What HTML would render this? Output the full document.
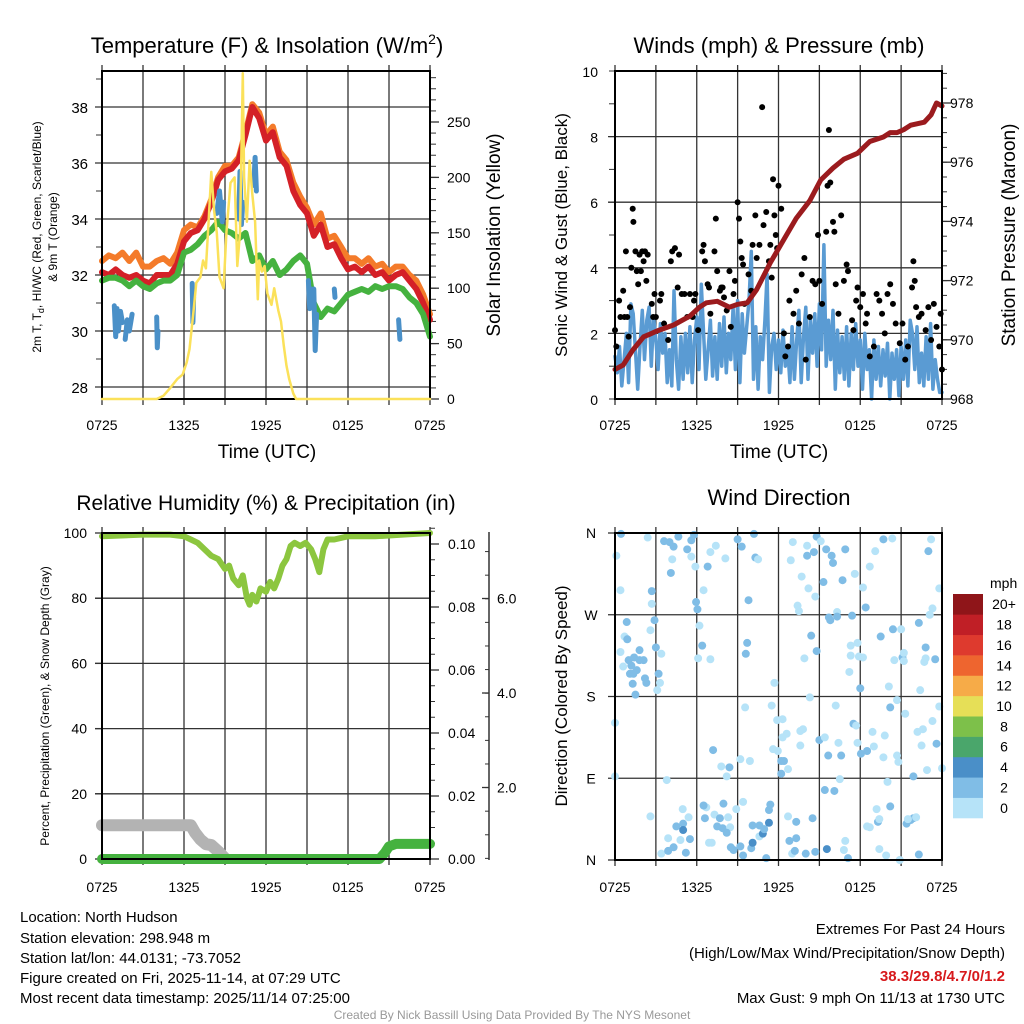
<!DOCTYPE html>
<html><head><meta charset="utf-8"><style>
html,body{margin:0;padding:0;background:#fff;}
svg{display:block;font-family:"Liberation Sans",Arial,sans-serif;}
</style></head><body>
<svg id="chart" width="1024" height="1024" viewBox="0 0 1024 1024">
<defs>
<clipPath id="clip3"><rect x="90" y="520" width="350" height="342"/></clipPath>
</defs>
<text x="267" y="53" font-size="22" text-anchor="middle">Temperature (F) &amp; Insolation (W/m<tspan font-size="14" dy="-9">2</tspan><tspan dy="9">)</tspan></text>
<text x="779" y="53" font-size="22" text-anchor="middle">Winds (mph) &amp; Pressure (mb)</text>
<text x="266" y="510" font-size="21" text-anchor="middle">Relative Humidity (%) &amp; Precipitation (in)</text>
<text x="779" y="505" font-size="22" text-anchor="middle">Wind Direction</text>
<text x="267" y="458" font-size="19" text-anchor="middle">Time (UTC)</text>
<text x="779" y="458" font-size="19" text-anchor="middle">Time (UTC)</text>
<text transform="translate(41,237) rotate(-90)" font-size="12" text-anchor="middle">2m T, T<tspan font-size="9" dy="3">d</tspan><tspan dy="-3">, HI/WC (Red, Green, Scarlet/Blue)</tspan></text>
<text transform="translate(57,237) rotate(-90)" font-size="12" text-anchor="middle">&amp; 9m T (Orange)</text>
<text transform="translate(500,235) rotate(-90)" font-size="19" text-anchor="middle">Solar Insolation (Yellow)</text>
<text transform="translate(567,235) rotate(-90)" font-size="17" text-anchor="middle">Sonic Wind &amp; Gust (Blue, Black)</text>
<text transform="translate(1015,235) rotate(-90)" font-size="19" text-anchor="middle">Station Pressure (Maroon)</text>
<text transform="translate(49,706) rotate(-90)" font-size="12" text-anchor="middle">Percent, Precipitation (Green), &amp; Snow Depth (Gray)</text>
<text transform="translate(567,696) rotate(-90)" font-size="17" text-anchor="middle">Direction (Colored By Speed)</text>
<text x="990" y="588" font-size="14">mph</text>
<g font-size="15">
<text x="20" y="922">Location: North Hudson</text>
<text x="20" y="943">Station elevation: 298.948 m</text>
<text x="20" y="963">Station lat/lon: 44.0131; -73.7052</text>
<text x="20" y="983">Figure created on Fri, 2025-11-14, at 07:29 UTC</text>
<text x="20" y="1003">Most recent data timestamp: 2025/11/14 07:25:00</text>
</g>
<g font-size="15" text-anchor="end">
<text x="1005" y="934">Extremes For Past 24 Hours</text>
<text x="1005" y="958">(High/Low/Max Wind/Precipitation/Snow Depth)</text>
<text x="1005" y="981" fill="#d7191c" font-weight="bold">38.3/29.8/4.7/0/1.2</text>
<text x="1005" y="1003">Max Gust: 9 mph On 11/13 at 1730 UTC</text>
</g>
<text x="512" y="1019" font-size="12" fill="#999" text-anchor="middle">Created By Nick Bassill Using Data Provided By The NYS Mesonet</text>
<g id="layer"></g>
</svg>
<script>
// ---------- DATA ----------
const timeTicks = ["0725","1325","1925","0125","0725"];
const halfHours = [0,0.5,1,1.5,2,2.5,3,3.5,4,4.5,5,5.5,6,6.5,7,7.5,8,8.5,9,9.5,10,10.5,11,11.5,12,12.5,13,13.5,14,14.5,15,15.5,16,16.5,17,17.5,18,18.5,19,19.5,20,20.5,21,21.5,22,22.5,23,23.5,24];
const temp2m = [32.1,32.0,32.2,32.0,31.9,32.0,31.8,31.7,32.0,32.0,32.0,32.4,33.2,33.5,33.6,34.0,34.6,35.4,35.7,35.8,36.1,37.0,38.0,37.6,36.8,37.1,36.2,35.9,35.0,34.5,34.2,33.4,33.8,33.0,33.1,32.6,32.2,32.3,32.1,32.3,32.0,32.1,31.8,32.0,32.1,31.8,31.5,31.0,30.4];
const temp9m = [32.5,32.7,32.6,32.8,32.5,32.8,32.3,32.3,32.5,32.6,32.4,32.8,33.6,33.8,33.7,34.1,34.7,35.5,35.9,35.9,36.2,37.1,38.1,37.8,37.0,37.3,36.4,36.1,35.3,34.8,34.4,33.8,34.2,33.3,33.4,33.0,32.6,32.6,32.4,32.6,32.3,32.4,32.1,32.3,32.3,32.0,31.8,31.3,30.6];
const dewpoint = [31.8,31.9,31.9,31.8,31.6,31.8,31.6,31.5,31.7,31.8,31.8,32.0,32.8,32.9,33.1,33.4,33.6,33.9,33.6,33.5,33.3,33.5,32.5,32.7,32.2,32.5,32.0,32.2,32.5,32.7,32.4,31.0,30.5,30.8,30.7,31.0,31.3,31.4,31.5,31.4,31.6,31.5,31.6,31.6,31.5,31.2,31.0,30.6,29.8];
const chillHours = [0.9,1.0,1.1,1.2,1.35,1.5,null,1.7,1.85,2.0,2.2,null,4.0,4.05,4.1,null,6.6,6.65,6.7,null,8.4,8.6,8.8,8.9,null,10.0,10.1,10.2,10.3,null,11.1,11.2,11.3,null,15.1,15.2,15.3,null,15.5,15.6,15.7,null,17.0,17.05,null,21.7,21.8];
const chillValues = [30.9,29.8,30.8,30.0,30.7,30.3,null,29.7,30.4,30.0,30.6,null,30.5,29.4,30.0,null,31.7,30.3,31.2,null,34.2,35.0,33.9,34.6,null,34.0,35.7,33.8,34.6,null,35.2,36.2,35.0,null,31.8,30.8,31.5,null,31.5,29.3,30.6,null,31.5,31.2,null,30.4,29.7];
const solarHours = [0,4.0,4.5,5.0,5.5,5.9,6.2,6.4,6.7,6.9,7.2,7.4,7.6,7.8,8.0,8.2,8.4,8.6,8.9,9.1,9.4,9.7,9.9,10.1,10.3,10.4,10.6,10.8,11.0,11.2,11.4,11.5,11.7,11.9,12.1,12.4,12.6,12.9,13.1,13.3,13.5,13.7,14.0,14.2,24];
const solarValues = [0,0,3,10,18,22,33,45,80,105,110,125,118,160,205,170,150,110,100,150,195,200,120,150,294,200,160,215,185,160,90,125,115,120,95,85,100,80,70,48,30,18,5,0,0];
const tempTicks = [28,30,32,34,36,38];
const solarTicks = [0,50,100,150,200,250];

const windSpeed = [1.3,0.8,1.6,0.4,1.2,2.0, 0.5,2.9,2.6,1.5,0.3,1.6, 2.7,1.2,2.4,2.8,1.0,2.5, 1.8,0.9,2.3,1.4,2.0,0.5, 1.5,0.4,3.3,1.2,0.3,1.9, 0.6,2.0,0.8,2.2,0.5,1.8, 2.5,0.9,3.5,2.0,0.6,1.5, 2.4,0.7,1.9,0.6,2.3,1.0, 2.5,0.8,2.0,1.2,2.8,0.9, 3.0,0.5,2.6,1.4,2.2,3.0, 4.5,0.6,2.2,0.3,1.9,1.2, 2.4,3.8,0.2,1.6,2.0,0.9, 1.8,0.8,2.1,1.0,1.6,0.5, 2.2,0.6,1.8,2.7,0.5,1.9, 2.8,0.6,2.4,1.4,2.6,1.0, 2.9,1.5,4.7,1.0,2.4,1.2, 2.7,0.3,2.1,0.8,1.9,0.6, 2.2,0.4,2.0,0.9,2.3,1.0, 1.8,0.3,2.0,0.9,1.5,0.0, 1.8,0.6,1.6,0.4,1.5,0.7, 1.7,0.0,1.4,0.6,1.5,0.1, 1.6,0.6,1.8,0.4,2.4,2.0, 0.9,2.2,0.5,1.4,0.4,1.9, 0.6,2.3,0.3,1.2,0.6,0.2, 0.2];
const windHours = windSpeed.map((v, i) => i / 6);
const gustHours = [0,0.1,0.3,0.4,0.6,0.7,0.8,0.9,1.0,1.1,1.2,1.3,1.35,1.5,1.6,1.7,1.8,1.9,2.0,2.1,2.2,2.3,2.4,2.7,2.8,2.9,3.0,3.3,3.4,3.6,3.9,4.1,4.2,4.4,4.6,4.7,4.9,5.1,5.3,5.5,5.7,5.8,5.9,6.1,6.4,6.5,6.6,6.8,6.9,7.0,7.3,7.4,7.5,7.7,7.8,7.9,8.0,8.2,8.4,8.5,8.7,8.8,9.0,9.1,9.2,9.3,9.4,9.5,9.8,10.0,10.1,10.3,10.4,10.6,10.8,10.9,11.1,11.3,11.4,11.5,11.6,11.7,11.8,11.9,12.0,12.2,12.4,12.5,12.7,12.8,13.1,13.3,13.5,13.7,13.9,14.0,14.3,14.5,14.7,14.9,15.0,15.2,15.5,15.6,15.7,15.8,16.0,16.1,16.2,16.4,16.6,16.8,17.0,17.1,17.4,17.5,17.7,17.8,18.0,18.2,18.4,18.5,18.7,19.0,19.2,19.4,19.6,19.8,20.0,20.2,20.4,20.6,20.9,21.1,21.3,21.5,21.8,21.9,22.0,22.1,22.3,22.5,22.8,23.0,23.2,23.4,23.6,23.8,23.9,24.0];
const gustValues = [2.1,1.6,3.0,2.5,3.3,2.5,4.5,2.5,1.9,2.8,4.0,5.8,5.4,4.5,3.9,3.5,4.4,3.9,4.5,4.2,4.5,3.6,4.4,2.9,2.5,3.2,2.5,3.0,3.2,2.3,1.8,4.2,4.5,4.6,3.4,4.4,3.2,3.2,2.5,3.2,2.5,3.0,3.2,2.1,4.5,4.7,4.2,3.5,3.4,2.6,4.5,5.5,3.9,3.3,3.4,3.4,3.1,2.7,3.9,2.2,3.2,3.6,6.0,5.5,4.8,4.3,4.1,2.9,3.8,3.3,4.7,5.6,4.3,4.7,8.9,5.3,5.7,4.2,4.7,3.7,6.7,5.6,5.0,4.6,6.5,5.8,2.0,1.3,1.6,3.0,2.6,3.3,2.3,3.8,4.3,1.2,2.5,3.6,3.5,5.0,3.6,2.9,5.1,6.5,8.2,6.6,5.4,5.1,3.5,2.6,5.6,3.6,4.1,3.9,2.4,2.1,3.0,3.4,2.8,3.2,2.3,2.6,1.3,1.6,3.2,3.0,2.6,2.0,3.2,3.5,2.9,2.3,1.7,2.3,1.2,1.6,3.4,4.2,3.6,2.8,2.5,2.6,2.1,2.8,1.8,2.9,2.2,1.6,2.6,0.9];
const pressHours = [0,0.6,1.3,2.1,2.6,3.1,4.3,5.5,6.2,6.7,7.5,8.4,9.0,9.7,10.4,11.4,12.4,13.3,14.3,15.1,16.0,16.8,17.8,18.7,19.7,20.2,20.7,21.2,21.7,22.2,22.7,23.2,23.6,24];
const pressValues = [969.0,969.15,969.65,970.1,970.2,970.3,970.5,970.8,971.1,971.25,971.3,971.1,971.2,971.25,971.7,972.6,973.4,974.1,974.7,975.4,975.8,976.1,976.3,976.7,976.85,977.0,977.0,977.1,977.25,977.3,977.35,977.6,978.0,977.9];
const windTicks = [0,2,4,6,8,10];
const pressTicks = [968,970,972,974,976,978];

const rhHours = [0,3,5,6,6.5,7,7.5,8,8.5,9,9.3,9.6,10,10.3,10.6,10.8,11,11.3,11.6,12,12.3,12.6,12.9,13.2,13.5,13.8,14.1,14.5,14.9,15.3,15.6,15.9,16.2,16.5,17,18,20,22,24];
const rhValues = [99,99.5,99.5,99,98,97,95,93,92,89,90,86,84,87,80,78,81,79,83,82,85,83,86,90,92,96,97,96,97,95,92,88,95,98,98,99,99,99.5,100];
const snowHours = [0,6.5,6.8,7.2,7.6,8.0,8.5,9.0,9.5];
const snowDepth = [1.2,1.2,1.05,0.9,0.8,0.78,0.65,0.5,0.4];
const precipHours = [0,20.3,20.7,21.0,21.5,24];
const precipValues = [0,0,0.002,0.004,0.0048,0.0048];
const rhTicks = [0,20,40,60,80,100];
const precipTicks = ["0.00","0.02","0.04","0.06","0.08","0.10"];
const snowTicks = ["2.0","4.0","6.0"];

const dirHours = [0.44,2.4,3.6,4.0,4.3,4.65,5.6,5.8,5.3,4.2,4.1,5.6,5.9,6.8,7.0,7.4,8.1,9.0,9.3,10.2,10.3,10.5,0.1,0.4,2.7,2.7,5.95,6.05,6.5,9.8,0.86,2.9,2.6,0.7,0.9,0.4,1.8,1.0,1.4,1.8,2.1,1.2,0.6,1.6,1.1,1.35,2.2,2.3,1.3,1.5,3.0,3.4,3.2,3.3,3.1,6.2,6.4,6.1,7.0,9.7,9.6,11.7,0,9.55,11.5,11.9,12.3,12.3,12.6,13.6,13.8,11.6,11.95,7.2,9.2,9.9,12.2,12.4,12.2,12.7,13.6,7.8,8.4,8.2,3.8,0,14.3,15.0,15.4,15.65,16.4,16.6,16.5,15.4,16.1,16.2,17.5,17.7,17.8,18.05,18.5,18.9,19.0,19.7,19.8,20.2,20.7,21.3,20.7,20.8,20.0,21.9,22.2,22.6,23.3,23.8,22.5,23.6,22.9,24.0,18.0,20.1,22.4,21.1,20.5,21.2,22.7,22.8,23.5,22.8,21.2,19.5,20.4,21.0,22.3,23.1,23.3,23.8,23.0,23.2,19.7,20.35,19.1,18.7,18.2,18.4,17.6,16.7,15.3,16.3,15.7,15.8,16.3,17.4,17.3,17.8,17.3,17.9,18.2,17.2,14.4,14.8,13.9,14.6,14.8,14.1,15.1,15.5,15.9,16.0,16.9,13.05,14.1,12.9,13.7,14.2,14.7,13.4,13.5,2.6,3.4,3.9,4.3,4.8,5.5,5.2,3.9,4.5,5.0,5.4,4.97,5.0,6.7,6.5,6.6,7.3,7.7,7.5,7.9,8.45,8.2,8.3,7.96,8.9,9.4,6.9,7.1,8.5,8.7,9.2,9.4,10.0,10.1,10.6,10.85,10.95,10.1,10.6,11.3,11.3,11.4,11.1,12.7,13.3,12.8,13.3,13.0,13.2,14.0,14.7,15.55,16.8,17.1,14.5,16.9,18.5,18.7,19.3,19.4,19.2,20.2,19.4,19.9,20.9,22.3,21.4,21.7,21.9,22.1,21.5];
const dirDegrees = [359,355,351,350,345,356,352,358,342,331,316,334,323,323,339,346,332,353,345,359,333,331,335,297,296,282,284,276,297,286,262,264,253,246,243,229,231,220,223,220,220,214,213,209,205,205,200,195,194,182,234,227,205,195,187,258,236,222,221,239,227,195,151,168,170,154,155,135,139,142,144,122,120,121,111,109,109,109,95,100,126,103,102,92,88,92,179,132,135,115,129,115,89,77,76,170,150,148,129,117,120,141,125,113,137,168,176,161,115,108,86,92,141,144,153,169,126,128,99,101,189,191,187,223,220,219,218,222,221,234,228,246,254,254,261,270,277,299,340,353,353,354,340,323,300,278,315,308,306,273,267,264,268,269,236,239,225,224,223,207,247,230,222,339,356,346,351,342,335,327,342,350,335,330,312,299,290,280,274,48,7,10,14,22,23,8,24,37,40,47,56,33,58,60,46,50,46,37,35,36,30,47,62,56,64,19,19,14,11,15,5,13,19,26,29,34,38,38,41,55,61,2,48,42,21,24,7,10,7,9,12,11,2,46,21,37,36,42,45,56,59,12,5,0,6,40,44,46,47,45];
const dirSpeed = [3,1,3,3,3,3,3,3,3,1,3,1,1,3,1,1,1,3,3,3,3,1,1,1,3,1,3,3,1,3,3,3,1,1,3,1,3,3,3,3,3,3,1,3,3,3,3,3,3,3,3,1,3,1,1,1,3,1,1,3,3,1,1,1,1,1,1,1,1,1,1,1,1,3,1,1,3,3,3,1,1,1,3,1,1,1,1,3,1,3,1,3,1,3,3,1,3,1,1,3,3,1,1,1,1,3,1,1,1,1,1,3,1,1,1,1,1,3,1,1,3,1,1,3,1,1,1,1,3,3,1,3,3,1,3,1,1,1,3,1,3,1,1,1,1,3,1,3,3,1,3,3,3,3,1,1,1,1,1,1,3,3,1,3,3,1,1,3,3,3,3,1,3,1,1,1,1,1,1,1,1,3,3,1,3,3,1,3,3,1,1,5,1,3,3,1,3,3,3,1,3,1,3,1,1,1,1,3,3,3,3,3,5,1,5,3,3,3,5,3,3,3,1,3,3,3,1,3,3,3,5,1,3,3,1,1,1,3,1,1,3,1,1,1,3,3,3,3,1];
const dirTicks = ["N","W","S","E","N"];
const speedBins = ["0","2","4","6","8","10","12","14","16","18","20+"];
const binColors = ["#b6e3f8","#80bde6","#4a8fc8","#4aa66b","#7dc04a","#e6df57","#f6ab48","#ee652f","#de3a2e","#c01f26","#8f1519"];

// ---------- SCALES ----------
const P1 = {l:102, r:430, t:71, b:399};
const P2 = {l:615, r:942, t:71, b:399};
const P3 = {l:102, r:430, t:533, b:859};
const P4 = {l:615, r:942, t:533, b:860};
const x1 = h => P1.l + h/24*(P1.r-P1.l);
const x2 = h => P2.l + h/24*(P2.r-P2.l);
const yT = v => 107 + (38 - v)*28;
const yS = w => 399 - w*1.108;
const yW = v => 399 - v*32.8;
const yP = v => 399 - (v-968)*29.6;
const yRH = v => 859 - v*3.26;
const yPr = v => 859 - v*3150;
const ySn = v => 882 - v*47.25;
const yD = d => 860 - d*327/360;

const NS = 'http://www.w3.org/2000/svg';
const layer = document.getElementById('layer');
function mk(tag, attrs, parent){
  const e = document.createElementNS(NS, tag);
  for (const k in attrs) e.setAttribute(k, attrs[k]);
  (parent||layer).appendChild(e);
  return e;
}
function pathD(xs, ys, fx, fy){
  let d = '', pen = false;
  for (let i=0;i<xs.length;i++){
    if (xs[i]===null || ys[i]===null || ys[i]===undefined){ pen=false; continue; }
    d += (pen?'L':'M') + fx(xs[i]).toFixed(1) + ',' + fy(ys[i]).toFixed(1);
    pen = true;
  }
  return d;
}
function series(xs, ys, fx, fy, color, w, name, clip){
  const p = mk('path', {d: pathD(xs, ys, fx, fy), fill:'none', stroke:color, 'stroke-width':w, 'stroke-linejoin':'round', 'stroke-linecap':'round'});
  if (clip) p.setAttribute('clip-path', clip);
  
  
  return p;
}
function grid(P, name, hLines){
  const g = mk('g', {stroke:'#333', 'stroke-width':1.3});
  
  
  for (let i=1;i<8;i++){
    const x = P.l + i*(P.r-P.l)/8;
    mk('line', {x1:x, x2:x, y1:P.t-6, y2:P.b+6}, g);
  }
  mk('line', {x1:P.l, x2:P.l, y1:P.b, y2:P.b+6}, g);
  mk('line', {x1:P.r, x2:P.r, y1:P.b, y2:P.b+6}, g);
  mk('line', {x1:P.l, x2:P.l, y1:P.t-6, y2:P.t}, g);
  mk('line', {x1:P.r, x2:P.r, y1:P.t-6, y2:P.t}, g);
  hLines.forEach(y => mk('line', {x1:P.l-7, x2:P.r, y1:y, y2:y}, g));
  return g;
}
function frame(P, name){
  const r = mk('rect', {x:P.l, y:P.t, width:P.r-P.l, height:P.b-P.t, fill:'none', stroke:'#000', 'stroke-width':2});
  
  
}
function label(x, y, txt, anchor, name, size){
  const t = mk('text', {x:x, y:y, 'font-size':size||14, 'text-anchor':anchor||'middle'});
  t.textContent = txt;
  
  
  return t;
}
function minorTicks(x, y0, y1, step, len){
  const g = mk('g', {stroke:'#333', 'stroke-width':1});
  
  
  const dir = Math.sign(step);
  for (let y=y0; dir>0 ? y<=y1+0.1 : y>=y1-0.1; y+=step) mk('line', {x1:x, x2:x+len, y1:y, y2:y}, g);
}
function xLabels(P, fx, y){
  timeTicks.forEach((t,i) => label(fx(i*6), y, t, 'middle', 'x-tick-label'));
}

// ---------- PANEL 1 ----------
grid(P1, 'temp-grid', tempTicks.map(yT));
minorTicks(P1.l, yT(39), yT(28), 28, -6);
minorTicks(P1.r, yS(0), yS(295), -11.08, 6);
solarTicks.forEach(v => mk('line', {x1:P1.r, x2:P1.r+9, y1:yS(v), y2:yS(v), stroke:'#333','stroke-width':1.3}));
series(halfHours, temp9m, x1, yT, '#f47b2a', 6, 'temp-9m-line');
series(halfHours, temp2m, x1, yT, '#d42027', 6, 'temp-2m-line');
series(halfHours, dewpoint, x1, yT, '#45b23f', 6, 'dewpoint-line');
series(chillHours, chillValues, x1, yT, '#4a90c8', 5, 'windchill-line');
frame(P1, 'temp-plot-frame');
series(solarHours, solarValues, x1, yS, '#fbe15a', 2.5, 'solar-line');
tempTicks.forEach(v => label(88, yT(v)+6, String(v), 'end', 'temp-y-tick-label', 15));
solarTicks.forEach(v => label(447, yS(v)+5, String(v), 'start', 'solar-y-tick-label'));
xLabels(P1, x1, 430);

// ---------- PANEL 2 ----------
grid(P2, 'wind-grid', windTicks.slice(1,5).map(yW));
minorTicks(P2.l, yW(0), yW(10), -32.8, -6);
minorTicks(P2.r, yP(968), yP(979), -14.8, 5);
pressTicks.forEach(v => mk('line', {x1:P2.r, x2:P2.r+9, y1:yP(v), y2:yP(v), stroke:'#333','stroke-width':1.3}));
series(windHours, windSpeed, x2, yW, '#5a9bd3', 3.5, 'sonic-wind-line');
const gg = mk('g', {fill:'#000'});


gustHours.forEach((h,i) => {
  const c = mk('circle', {cx:x2(h), cy:yW(gustValues[i]), r:3}, gg);
  
  
});
series(pressHours, pressValues, x2, yP, '#9b1b1e', 5, 'pressure-line');
frame(P2, 'wind-plot-frame');
windTicks.forEach(v => label(598, yW(v)+6, String(v), 'end', 'wind-y-tick-label'));
pressTicks.forEach(v => label(950, yP(v)+5, String(v), 'start', 'pressure-y-tick-label'));
xLabels(P2, x2, 430);

// ---------- PANEL 3 ----------
grid(P3, 'humidity-grid', rhTicks.slice(1,5).map(yRH));
rhTicks.forEach(v => mk('line', {x1:P3.l-7, x2:P3.l, y1:yRH(v), y2:yRH(v), stroke:'#333','stroke-width':1.3}));
minorTicks(P3.r, yPr(0), yPr(0.105), -15.75, 5);
precipTicks.forEach(v => mk('line', {x1:P3.r, x2:P3.r+9, y1:yPr(+v), y2:yPr(+v), stroke:'#333','stroke-width':1.3}));
const sa = mk('line', {x1:489, x2:489, y1:532, y2:860, stroke:'#333','stroke-width':1.5});


minorTicks(489, ySn(0.5), ySn(7), -23.6, -4);
snowTicks.forEach(v => mk('line', {x1:482, x2:489, y1:ySn(+v), y2:ySn(+v), stroke:'#333','stroke-width':1.3}));
series(snowHours, snowDepth, x1, ySn, '#b3b3b3', 12, 'snow-depth-line', 'url(#clip3)');
series(rhHours, rhValues, x1, yRH, '#8cc63f', 6, 'humidity-line');
series(precipHours, precipValues, x1, yPr, '#45b23f', 10, 'precip-line');
frame(P3, 'humidity-plot-frame');
rhTicks.forEach(v => label(87, yRH(v)+5, String(v), 'end', 'humidity-y-tick-label'));
precipTicks.forEach(v => label(448, yPr(+v)+5, v, 'start', 'precip-y-tick-label'));
snowTicks.forEach(v => label(497, ySn(+v)+5, v, 'start', 'snow-y-tick-label'));
xLabels(P3, x1, 892);

// ---------- PANEL 4 ----------
grid(P4, 'direction-grid', [270,180,90].map(yD));
[0,360].forEach(d => mk('line', {x1:P4.l-7, x2:P4.l, y1:yD(d), y2:yD(d), stroke:'#333','stroke-width':1.3}));
const dg = mk('g', {});


const nDir = Math.min(dirHours.length, dirDegrees.length);
for (let i = 0; i < nDir; i++) {
  const sp = (dirSpeed[i] === undefined) ? 1 : dirSpeed[i];
  const bin = Math.min(10, Math.floor(sp/2));
  const c = mk('circle', {cx:x2(dirHours[i]), cy:yD(dirDegrees[i]), r:4, fill:binColors[bin]}, dg);
  
  
}
frame(P4, 'direction-plot-frame');
dirTicks.forEach((t,i) => label(591, yD(360 - i*90)+5, t, 'middle', 'direction-tick-label'));
xLabels(P4, x2, 892);
const cbTop = 594, cbH = 224 / speedBins.length;
speedBins.forEach((b,i) => {
  const y = cbTop + (speedBins.length-1-i)*cbH;
  const r = mk('rect', {x:953, y:y, width:30, height:cbH+0.3, fill:binColors[i]});
  
  
  label(1004, y + cbH/2 + 5, b, 'middle', 'colorbar-label');
});
</script>
</body></html>
